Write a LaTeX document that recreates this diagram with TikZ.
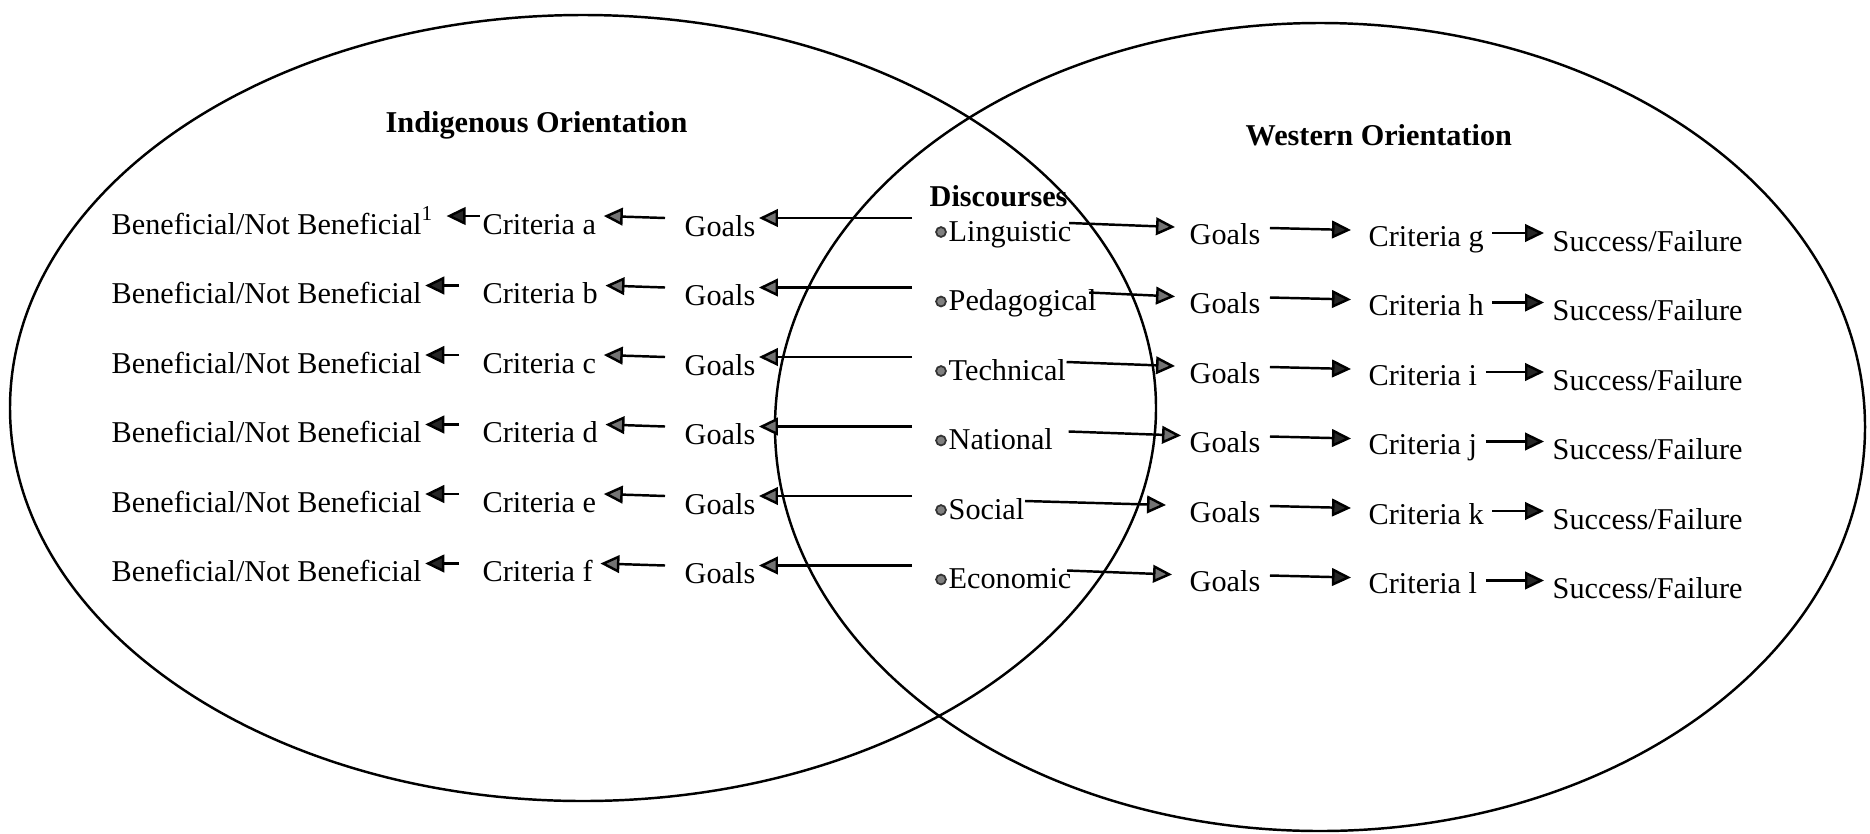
\documentclass[tikz,border=0pt]{standalone}
\usepackage{fontspec}
\setmainfont{Liberation Serif}
\usetikzlibrary{arrows.meta,calc}
\begin{document}
\begin{tikzpicture}[x=0.01cm,y=-0.01cm,
  lbl/.style={anchor=base west, inner sep=0pt, font=\fontsize{8.6pt}{10pt}\selectfont},
  ttl/.style={anchor=base west, inner sep=0pt, font=\fontsize{8.6pt}{10pt}\selectfont\bfseries},
  blkarrow/.style={line width=0.7pt, -{Triangle[length=5.4pt,width=5pt,fill=black!85]}},
  gryarrow/.style={line width=0.7pt, -{Triangle[length=5.4pt,width=5pt,fill=black!55]}},
  bulletdot/.style={circle, draw=black!80, fill=black!50, inner sep=0pt, minimum size=2.8pt, line width=0.5pt},
  ringline/.style={line width=0.7pt}]
\useasboundingbox (0,0) rectangle (1870,833);
\draw[ringline] (583,408) ellipse [x radius=573, y radius=393];
\draw[ringline] (1320,427) ellipse [x radius=545, y radius=404];
\node[ttl] (ind) at (385,132) {Indigenous Orientation};
\node[ttl] (wes) at (1245,145) {Western Orientation};
\node[ttl] (disc) at (929,206) {Discourses};
\foreach \i/\ltrL/\ltrR/\dtail/\dtip/\ctail/\ctip/\dname in {
  0/a/g/-3/-14/-2/12/Linguistic,
  1/b/h/-8/-14/-23/3/Pedagogical,
  2/c/i/0/-14/-23/3/Technical,
  3/d/j/15/-8/-23/3/National,
  4/e/k/0/-23/-23/3/Social,
  5/f/l/-5/-17/-23/3/Economic}{
  \pgfmathsetmacro{\yb}{234+69.5*\i}
  \node[lbl] (bn\i) at (111,\yb) {Beneficial/Not Beneficial\ifnum\i=0 \textsuperscript{1}\fi};
  \node[lbl] (cl\i) at (482,\yb) {Criteria \ltrL};
  \node[lbl] (gl\i) at (684,\yb+2) {Goals};
  \node[bulletdot] (b\i) at (941,\yb-2) {};
  \node[lbl] (d\i) at (948,\yb+7) {\dname};
  \node[lbl] (gr\i) at (1189,\yb+10) {Goals};
  \node[lbl] (cr\i) at (1368,\yb+12) {Criteria \ltrR};
  \node[lbl] (sf\i) at (1552,\yb+17) {Success/Failure};
  \draw[gryarrow] ($(b\i)+(-29,-14)$) -- ($(gl\i.base east)+(3,-18)$);
  \draw[gryarrow] ($(gl\i.base west)+(-19,-18)$) -- ($(cl\i.base east)+(7,-18)$);
  \draw[blkarrow] ($(cl\i.base west)+(\ctail,-18)$) -- ($(bn\i.base east)+(\ctip,-18)$);
  \draw[gryarrow] ($(d\i.base east)+(\dtail,-18)$) -- ($(gr\i.base west)+(\dtip,-17)$);
  \draw[blkarrow] ($(gr\i.base east)+(9,-16)$) -- ($(cr\i.base west)+(-17,-16)$);
  \draw[blkarrow] ($(cr\i.base east)+(8,-13)$) -- ($(sf\i.base west)+(-8,-18)$);
}
\end{tikzpicture}
\end{document}
